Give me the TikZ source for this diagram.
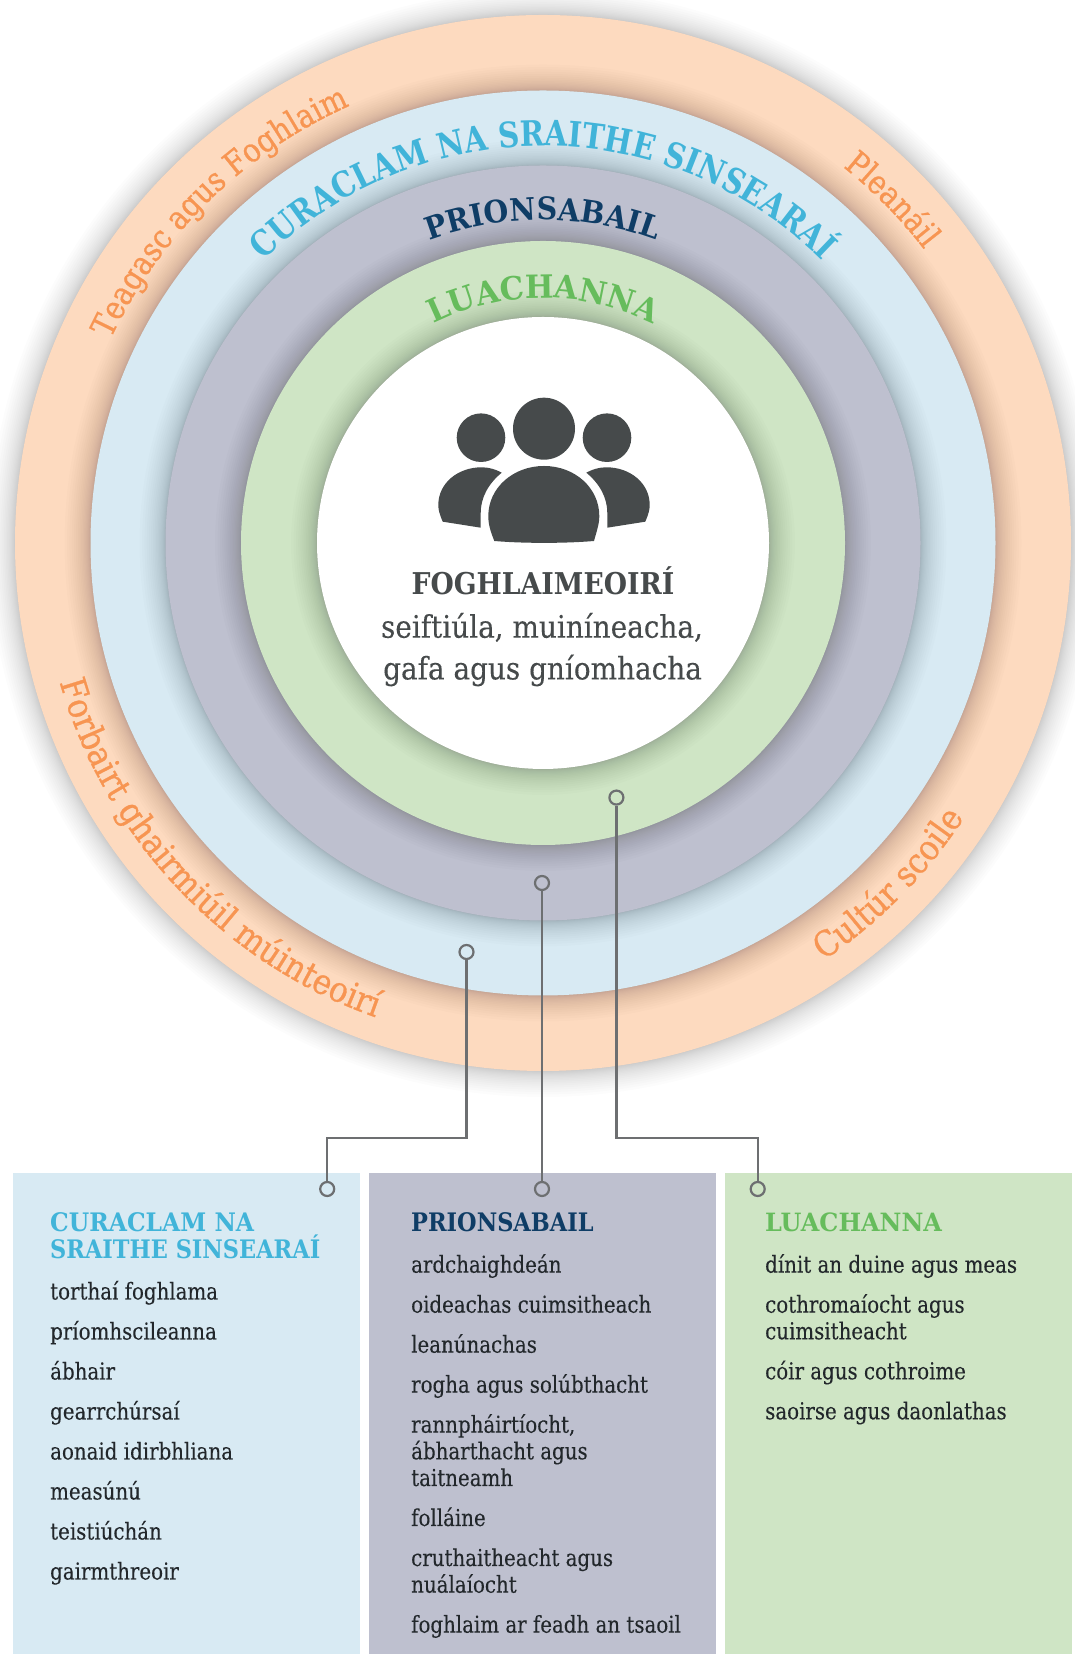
\documentclass[tikz,border=0pt]{standalone}
\usepackage{fontspec}
\usetikzlibrary{decorations.text}
\newfontfamily\slab[FakeStretch=0.85,FakeBold=0.15]{DejaVu Serif}
\newfontfamily\slabc[FakeStretch=0.90,FakeBold=0.15]{DejaVu Serif}
\newfontfamily\slabo[FakeStretch=0.865,FakeBold=0.8]{DejaVu Serif}
\newfontfamily\slabq[FakeStretch=0.89,FakeBold=0.8]{DejaVu Serif}
\newfontfamily\slabb[FakeStretch=0.88]{DejaVu Serif Bold}
\newfontfamily\slabd[FakeStretch=0.89]{DejaVu Serif Bold}
\newfontfamily\slabe[FakeStretch=0.84]{DejaVu Serif Bold}
\newfontfamily\slabf[FakeStretch=0.92]{DejaVu Serif Bold}
\newfontfamily\slabg[FakeStretch=0.95]{DejaVu Serif Bold}
\definecolor{peach}{HTML}{FDDABF}
\definecolor{skyfill}{HTML}{D8EAF3}
\definecolor{slatefill}{HTML}{BEC0CF}
\definecolor{greenfill}{HTML}{CFE5C5}
\definecolor{orangeT}{HTML}{F79552}
\definecolor{cyanT}{HTML}{41B4D9}
\definecolor{navyT}{HTML}{0F3D66}
\definecolor{greenT}{HTML}{66BC5C}
\definecolor{iconT}{HTML}{464A4B}
\definecolor{bodyT}{HTML}{22272B}
\definecolor{lineT}{HTML}{6D6F71}
\newcommand{\softdisc}[2]{%
  \foreach \k in {1,...,20}{\fill[black,opacity=0.012] (C) circle[radius={#1+0.065*\k*\k}];}
  \fill[#2] (C) circle[radius=#1];}
\newcommand{\curvetext}[5]{% start, end, radius, format, text
  \path[decorate,decoration={text along path,text={|#4|#5},text align=center}]
    ([shift={(C)}]#1:#3) arc[start angle=#1,end angle=#2,radius=#3];}
\newcommand{\fmtOuter}{\slabo\fontsize{33}{33}\selectfont\color{orangeT}}
\newcommand{\fmtLow}{\slabq\fontsize{35}{35}\selectfont\color{orangeT}}
\newcommand{\fmtCur}{\slabe\fontsize{35}{35}\selectfont\color{cyanT}}
\newcommand{\fmtPri}{\slabf\fontsize{31}{31}\selectfont\color{navyT}}
\newcommand{\fmtLua}{\slabg\fontsize{32}{32}\selectfont\color{greenT}}
\tikzset{
  bodytxt/.style={anchor=base west,inner sep=0pt,text=bodyT,font=\slab\fontsize{23.3}{23.3}\selectfont},
  headtxt/.style={anchor=base west,inner sep=0pt,font=\slabb\fontsize{25.5}{25.5}\selectfont},
  ctrtxt/.style={anchor=base,inner sep=0pt,text=iconT,font=\slabc\fontsize{31}{31}\selectfont},
  terminal/.style={circle,draw=lineT,line width=2.2pt,minimum size=14pt,inner sep=0pt},
  wire/.style={draw=lineT,line width=2.2pt}
}
\begin{document}
\begin{tikzpicture}[x=1pt,y=1pt]
\useasboundingbox (0,0) rectangle (1074,1654);
\coordinate (C) at (543,1111);
\softdisc{528}{peach}
\softdisc{452.5}{skyfill}
\softdisc{377.5}{slatefill}
\softdisc{302}{greenfill}
\softdisc{226}{white}
% curved labels
\curvetext{165.3}{103.3}{478}{\fmtOuter}{Teagasc agus Foghlaim}
\curvetext{60}{29}{481}{\fmtOuter}{Pleanáil}
\curvetext{185}{261.6}{503}{\fmtLow}{Forbairt ghairmiúil múinteoirí}
\curvetext{295}{335.8}{503}{\fmtLow}{Cultúr scoile}
\curvetext{140}{40}{397}{\fmtCur}{CURACLAM NA SRAITHE SINSEARAÍ}
\curvetext{120}{60}{323}{\fmtPri}{PRIONSABAIL}
\curvetext{130}{50}{245}{\fmtLua}{LUACHANNA}
% icon
\fill[iconT] (544,1225.3) circle[radius=31];
\fill[iconT] (481,1216.3) circle[radius=24.3];
\fill[iconT] (607,1216.3) circle[radius=24.3];
\fill[iconT] (494.3,1113) .. controls (490,1124) and (488.3,1130) .. (488.3,1138)
  .. controls (488.3,1166) and (513,1188) .. (544,1188)
  .. controls (575,1188) and (599.3,1166) .. (599.3,1138)
  .. controls (599.3,1130) and (597,1124) .. (594,1113)
  .. controls (565,1110.5) and (523,1110.5) .. (494.3,1113) -- cycle;
\fill[iconT] (442.7,1132.3) .. controls (439.5,1140) and (438.3,1144) .. (438.3,1149)
  .. controls (438.3,1171) and (458,1186.7) .. (481.7,1186.7)
  .. controls (489,1186.7) and (496,1184.5) .. (501.7,1181.3)
  .. controls (488,1170) and (480.7,1156) .. (480.7,1141)
  -- (480.7,1126.3) -- cycle;
\fill[iconT] (645.3,1132.3) .. controls (648.5,1140) and (649.7,1144) .. (649.7,1149)
  .. controls (649.7,1171) and (630,1186.7) .. (606.3,1186.7)
  .. controls (599,1186.7) and (592,1184.5) .. (586.3,1181.3)
  .. controls (600,1170) and (607.3,1156) .. (607.3,1141)
  -- (607.3,1126.3) -- cycle;
% centre text
\node[ctrtxt,font=\slabd\fontsize{30}{30}\selectfont] (ctitle) at (543,1059.6) {FOGHLAIMEOIRÍ};
\node[ctrtxt] (cline1) at (542,1016.3) {seiftiúla, muiníneacha,};
\node[ctrtxt] (cline2) at (542.6,974.6) {gafa agus gníomhacha};
% boxes
\fill[skyfill] (13,0) rectangle (360,481);
\fill[slatefill] (369,0) rectangle (716,481);
\fill[greenfill] (725,0) rectangle (1071.7,481);
% terminals and wires
\coordinate (rail) at (0,515.7);
\node[terminal] (tA) at (466.5,702) {};
\node[terminal] (tB) at (542,771) {};
\node[terminal] (tC) at (616.4,856.4) {};
\node[terminal] (bA) at (327.2,465) {};
\node[terminal] (bB) at (542,465) {};
\node[terminal] (bC) at (757.7,465) {};
\draw[wire] (tA.south) -- (tA.south |- rail) -- (bA.north |- rail) -- (bA.north);
\draw[wire] (tB.south) -- (bB.north);
\draw[wire] (tC.south) -- (tC.south |- rail) -- (bC.north |- rail) -- (bC.north);
% column 1
\node[headtxt,text=cyanT,font=\slabf\fontsize{25.5}{25.5}\selectfont] (h1a) at (50,422) {CURACLAM NA};
\node[headtxt,text=cyanT] (h1b) at (50,395.3) {SRAITHE SINSEARAÍ};
\node[bodytxt] (a1) at (50,354.5) {torthaí foghlama};
\node[bodytxt] (a2) at (50,314.5) {príomhscileanna};
\node[bodytxt] (a3) at (50,274.5) {ábhair};
\node[bodytxt] (a4) at (50,234.5) {gearrchúrsaí};
\node[bodytxt] (a5) at (50,194.5) {aonaid idirbhliana};
\node[bodytxt] (a6) at (50,154.5) {measúnú};
\node[bodytxt] (a7) at (50,114.5) {teistiúchán};
\node[bodytxt] (a8) at (50,74.5) {gairmthreoir};
% column 2
\node[headtxt,text=navyT] (h2) at (411,422) {PRIONSABAIL};
\node[bodytxt] (b1) at (411,381.3) {ardchaighdeán};
\node[bodytxt] (b2) at (411,341.3) {oideachas cuimsitheach};
\node[bodytxt] (b3) at (411,301.3) {leanúnachas};
\node[bodytxt] (b4) at (411,261.3) {rogha agus solúbthacht};
\node[bodytxt] (b5) at (411,221.3) {rannpháirtíocht,};
\node[bodytxt] (b6) at (411,194.7) {ábharthacht agus};
\node[bodytxt] (b7) at (411,168) {taitneamh};
\node[bodytxt] (b8) at (411,128) {folláine};
\node[bodytxt] (b9) at (411,88) {cruthaitheacht agus};
\node[bodytxt] (b10) at (411,61.3) {nuálaíocht};
\node[bodytxt] (b11) at (411,21.3) {foghlaim ar feadh an tsaoil};
% column 3
\node[headtxt,text=greenT,font=\slabg\fontsize{25.2}{25.2}\selectfont] (h3) at (765,422) {LUACHANNA};
\node[bodytxt] (c1) at (765,381.3) {dínit an duine agus meas};
\node[bodytxt] (c2) at (765,341.3) {cothromaíocht agus};
\node[bodytxt] (c3) at (765,314.7) {cuimsitheacht};
\node[bodytxt] (c4) at (765,274.7) {cóir agus cothroime};
\node[bodytxt] (c5) at (765,234.7) {saoirse agus daonlathas};
\end{tikzpicture}
\end{document}
